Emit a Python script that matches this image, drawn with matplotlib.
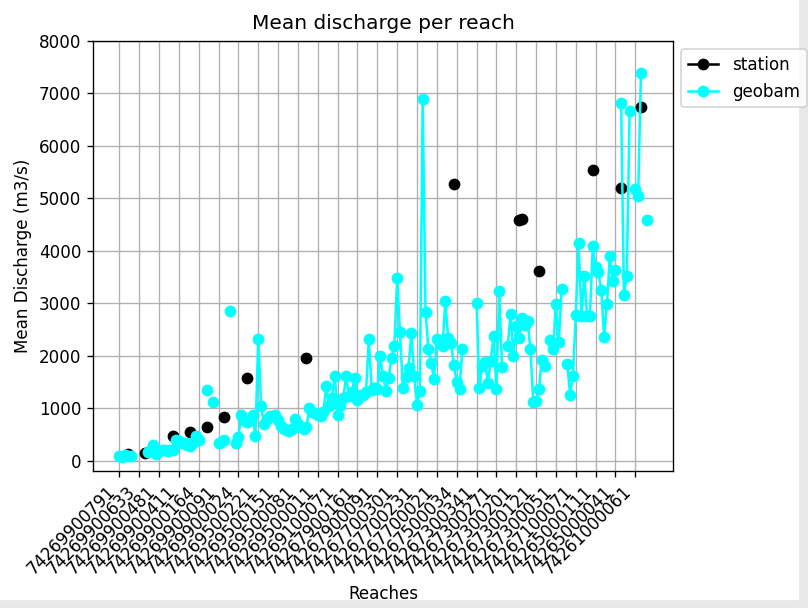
import numpy as np
import matplotlib
matplotlib.use("Agg")
import matplotlib.pyplot as plt
import matplotlib.patches as patch

nan = np.nan

# reach labels shown on the x axis (every 7th reach)
tick_reaches = ["74269900791", "74269900633", "74269900481", "74269900411",
                "74269900164", "74269900091", "74269900024", "74269500221",
                "74269500151", "74269500081", "74269500011", "74269100071",
                "74267900161", "74267900091", "74267700301", "74267700231",
                "74267700021", "74267500034", "74267300341", "74267300271",
                "74267300201", "74267300121", "74267300051", "74267100071",
                "74265000111", "74265000041", "74261000061"]
tick_step = 7

# mean discharge per reach (m3/s), geobam estimate
geobam = [95, 75, 110, 90, 95, nan, nan, nan, nan, nan,
          160, 200, 290, 130, 190, 210, 200, 180, 195, 210,
          400, 370, 330, 340, 290, 270, 330, 463, 400, nan,
          nan, 1340, nan, 1110, nan, 336, 360, 390, nan, 2845,
          nan, 336, 450, 876, 781, 740, nan, 876, 476, 2318,
          1048, 700, 800, 844, 850, 860, 780, 660, 610, 590,
          558, 600, 794, 700, 630, 610, 634, 1000, 920, 900,
          860, 844, 930, 1416, 1040, 1200, 1610, 876, 1035, 1200,
          1606, 1225, 1300, 1575, 1162, 1250, 1257, 1300, 2318, 1352,
          1380, 1360, 2000, 1620, 1320, 1575, 1956, 2177, 3480, 2444,
          1384, 1600, 1765, 2432, 1620, 1067, 1320, 6889, 2832, 2130,
          1860, 1556, 2318, 2250, 2177, 3034, 2330, 2242, 1829, 1500,
          1365, 2127, nan, nan, nan, nan, 3003, 1384, 1810, 1880,
          1480, 1900, 2368, 1365, 3240, 1784, nan, 2177, 2800, 2000,
          2558, 2337, 2718, 2590, 2654, 2127, 1111, 1130, 1365, 1924,
          1810, nan, 2305, 2127, 2984, 2254, 3270, nan, 1848, 1257,
          1606, 2781, 4147, 2749, 3524, 2749, 2760, 4082, 3689, 3587,
          3257, 2356, 2984, 3892, 3415, 3625, nan, 6813, 3156, 3511,
          6672, nan, 5175, 5035, 7397, nan, 4590]

# gauged reaches: index -> station mean discharge
station_idx = [3, 9, 19, 25, 31, 37, 45, 66, 118, 141, 142, 148, 167, 177, 184]
station_val = [130, 150, 463, 546, 641, 825, 1575, 1956, 5276, 4590, 4610,
               3606, 5543, 5206, 6737]

n = len(geobam)
station = np.full(n, np.nan)
station[station_idx] = station_val
x = np.arange(n)

fig = plt.figure(figsize=(808 / 121, 608 / 121), dpi=121)
ax = fig.add_axes([93 / 808, 1 - 471 / 608, 580 / 808, 430 / 608])

ax.plot(x, station, "-o", color="black", label="station")
ax.plot(x, geobam, "-o", color="cyan", label="geobam")

ax.set_xticks(x[::tick_step])
ax.set_xticklabels(tick_reaches, rotation=45, ha="right")
ax.set_ylim(-200, 8000)
ax.grid(True)
ax.set_title("Mean discharge per reach", pad=7)
ax.set_xlabel("Reaches")
ax.set_ylabel("Mean Discharge (m3/s)")
ax.legend(loc="upper left", bbox_to_anchor=(1, 1), handlelength=1.8)

# light grey frame of the screenshot (right and bottom edges)
fig.patches.append(patch.Rectangle((800 / 808, 0), 8 / 808, 1, color="#e8e8e8",
                                   transform=fig.transFigure, zorder=-1))
fig.patches.append(patch.Rectangle((0, 0), 1, 7 / 608, color="#e8e8e8",
                                   transform=fig.transFigure, zorder=-1))

fig.savefig("out.png", dpi=121)
